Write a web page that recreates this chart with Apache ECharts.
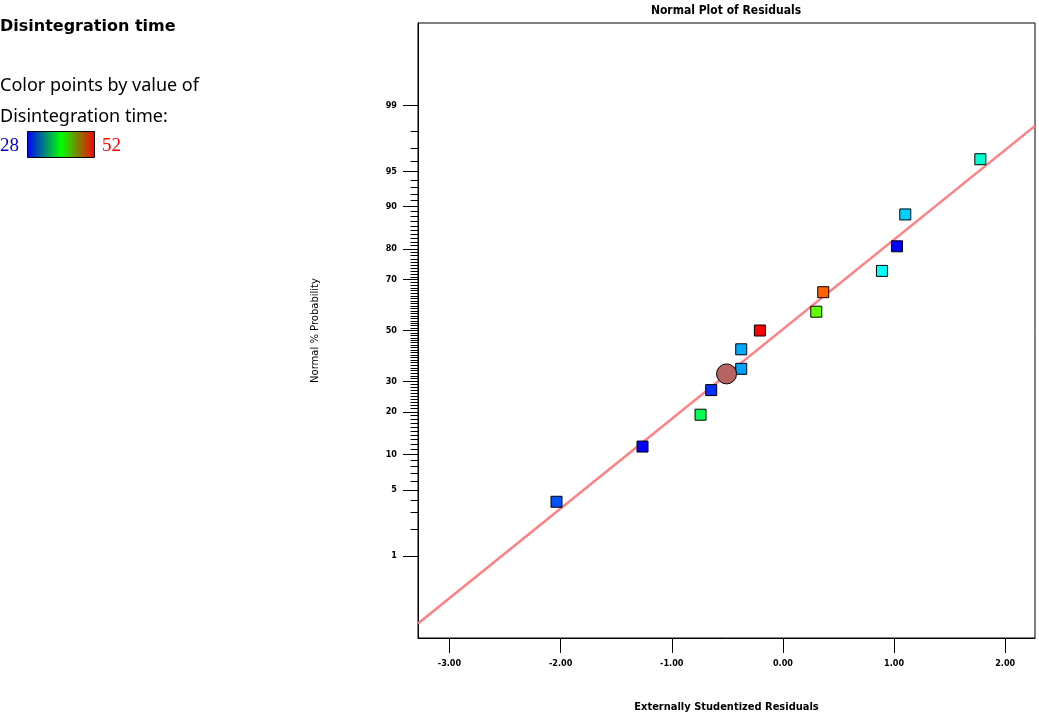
<!DOCTYPE html>
<html>
<head>
<meta charset="utf-8">
<script src="https://cdn.jsdelivr.net/npm/echarts@6/dist/echarts.min.js"></script>
<style>html,body{margin:0;padding:0;background:#fff}#c{width:1039px;height:718px}</style>
</head>
<body>
<div id="c"></div>
<script>
// ---- data ----
const residuals = [-2.037, -1.263, -0.741, -0.645, -0.375, -0.375, -0.207, 0.300, 0.363, 0.891, 1.026, 1.101, 1.776];
const probPct   = [3.85, 11.54, 19.23, 26.92, 34.62, 42.31, 50.0, 57.69, 65.38, 73.08, 80.77, 88.46, 96.15];
const disTime   = [29.9, 28.0, 38.1, 29.1, 31.8, 32.0, 52.0, 42.3, 49.7, 34.0, 28.0, 32.9, 35.1];
const markerX   = [-0.507];
const markerPct = [32.7];
const fitX      = [-3.283, 2.268];
const fitPct    = [0.1243, 98.27];
const xTicks    = [-3, -2, -1, 0, 1, 2];
const yMajorPct = [1, 5, 10, 20, 30, 50, 70, 80, 90, 95, 99];
const yMinorPct = Array.from({length: 99}, (_, i) => i + 1);
const colorMin = 28, colorMax = 52;

// inverse normal CDF (probability scale of the y axis)
function probit(p) {
  const a=[-3.969683028665376e+01,2.209460984245205e+02,-2.759285104469687e+02,1.383577518672690e+02,-3.066479806614716e+01,2.506628277459239e+00];
  const b=[-5.447609879822406e+01,1.615858368580409e+02,-1.556989798598866e+02,6.680131188771972e+01,-1.328068155288572e+01];
  const c=[-7.784894002430293e-03,-3.223964580411365e-01,-2.400758277161838e+00,-2.549732539343734e+00,4.374664141464968e+00,2.938163982698783e+00];
  const d=[7.784695709041462e-03,3.224671290700398e-01,2.445134137142996e+00,3.754408661907416e+00];
  const pl=0.02425, ph=1-pl; let q,r;
  if (p<pl){q=Math.sqrt(-2*Math.log(p));return (((((c[0]*q+c[1])*q+c[2])*q+c[3])*q+c[4])*q+c[5])/((((d[0]*q+d[1])*q+d[2])*q+d[3])*q+1);}
  if (p<=ph){q=p-0.5;r=q*q;return (((((a[0]*r+a[1])*r+a[2])*r+a[3])*r+a[4])*r+a[5])*q/(((((b[0]*r+b[1])*r+b[2])*r+b[3])*r+b[4])*r+1);}
  q=Math.sqrt(-2*Math.log(1-p));return -(((((c[0]*q+c[1])*q+c[2])*q+c[3])*q+c[4])*q+c[5])/((((d[0]*q+d[1])*q+d[2])*q+d[3])*q+1);
}
const z = pct => probit(pct / 100);

const yMajorZ = yMajorPct.map(z);
const yMinorZ = yMinorPct.map(z);
const yMin = -3.175, yMax = 3.175;

const smallFont = '"Liberation Sans Narrow", "DejaVu Sans Condensed", sans-serif';

const chart = echarts.init(document.getElementById('c'));
chart.setOption({
  animation: false,
  grid: { left: 418, top: 23, right: 4, bottom: 77, show: true, borderColor: '#000', borderWidth: 1, containLabel: false },
  xAxis: {
    type: 'value', min: -3.283, max: 2.268,
    axisLine: { show: true, onZero: false, lineStyle: { color: '#000', width: 1 } },
    axisTick: { show: true, length: 15, customValues: xTicks, lineStyle: { color: '#000', width: 1 } },
    axisLabel: { customValues: xTicks, margin: 21, color: '#000', fontFamily: smallFont, fontWeight: 'bold', fontSize: 9,
      formatter: v => v.toFixed(2) },
    splitLine: { show: false },
    name: 'Externally Studentized Residuals', nameLocation: 'middle', nameGap: 64,
    nameTextStyle: { color: '#000', fontFamily: smallFont, fontWeight: 'bold', fontSize: 11 }
  },
  yAxis: [{
    type: 'value', min: yMin, max: yMax, position: 'left',
    axisLine: { show: true, onZero: false, lineStyle: { color: '#000', width: 1 } },
    axisTick: { show: true, length: 15, customValues: yMajorZ, lineStyle: { color: '#000', width: 1 } },
    axisLabel: { customValues: yMajorZ, margin: 21, color: '#000', fontFamily: smallFont, fontWeight: 'bold', fontSize: 9,
      formatter: v => { let best = 0; yMajorZ.forEach((zz, i) => { if (Math.abs(zz - v) < Math.abs(yMajorZ[best] - v)) best = i; }); return String(yMajorPct[best]); } },
    splitLine: { show: false },
    name: 'Normal % Probability', nameLocation: 'middle', nameGap: 98, nameRotate: 90,
    nameTextStyle: { color: '#000', fontFamily: '"DejaVu Sans", sans-serif', fontSize: 10 }
  }, {
    type: 'value', min: yMin, max: yMax, position: 'left', offset: 0,
    axisLine: { show: true, onZero: false, lineStyle: { color: '#000', width: 1 } },
    axisTick: { show: true, length: 7.5, customValues: yMinorZ, lineStyle: { color: '#000', width: 1 } },
    axisLabel: { show: false },
    splitLine: { show: false }
  }],
  visualMap: {
    show: false, type: 'continuous', min: colorMin, max: colorMax, dimension: 2, seriesIndex: 1,
    inRange: { color: ['#0000ff', '#00ffff', '#00ff00', '#ffff00', '#ff0000'] }
  },
  series: [{
    type: 'line', name: 'fit', yAxisIndex: 0, symbol: 'none', silent: true,
    data: fitX.map((x, i) => [x, z(fitPct[i])]),
    lineStyle: { color: '#ff8080', width: 2.5 }, z: 1
  }, {
    type: 'scatter', name: 'residuals', yAxisIndex: 0, symbol: 'rect', symbolSize: 11,
    data: residuals.map((x, i) => [x, z(probPct[i]), disTime[i]]),
    itemStyle: { borderColor: '#000', borderWidth: 1, opacity: 1 }, z: 3
  }, {
    type: 'scatter', name: 'marker', yAxisIndex: 0, symbol: 'circle', symbolSize: 20,
    data: markerX.map((x, i) => [x, z(markerPct[i])]),
    itemStyle: { color: '#b86262', borderColor: '#000', borderWidth: 1, opacity: 1 }, z: 4
  }],
  graphic: [
    { type: 'text', x: 726, y: 11, style: { text: 'Normal Plot of Residuals', fill: '#000', font: 'bold 12px ' + smallFont, align: 'center', verticalAlign: 'middle' } },
    { type: 'text', left: 0, top: 19, style: { text: 'Disintegration time', fill: '#000', font: 'bold 16px "DejaVu Sans", sans-serif' } },
    { type: 'text', left: 0, top: 77, style: { text: 'Color points by value of', fill: '#000', font: '18px "Noto Sans", sans-serif' } },
    { type: 'text', left: 0, top: 108, style: { text: 'Disintegration time:', fill: '#000', font: '18px "Noto Sans", sans-serif' } },
    { type: 'text', left: 0, top: 137, style: { text: String(colorMin), fill: '#0000c0', font: '19px "Liberation Serif", serif' } },
    { type: 'rect', shape: { x: 27.5, y: 131.5, width: 67, height: 26 },
      style: { stroke: '#000', lineWidth: 1,
        fill: new echarts.graphic.LinearGradient(0, 0, 1, 0, [
          { offset: 0, color: '#0000ff' }, { offset: 0.5, color: '#00ff00' }, { offset: 1, color: '#ff0000' }]) } },
    { type: 'text', left: 102, top: 137, style: { text: String(colorMax), fill: '#ff0000', font: '19px "Liberation Serif", serif' } }
  ]
});
</script>
</body>
</html>
